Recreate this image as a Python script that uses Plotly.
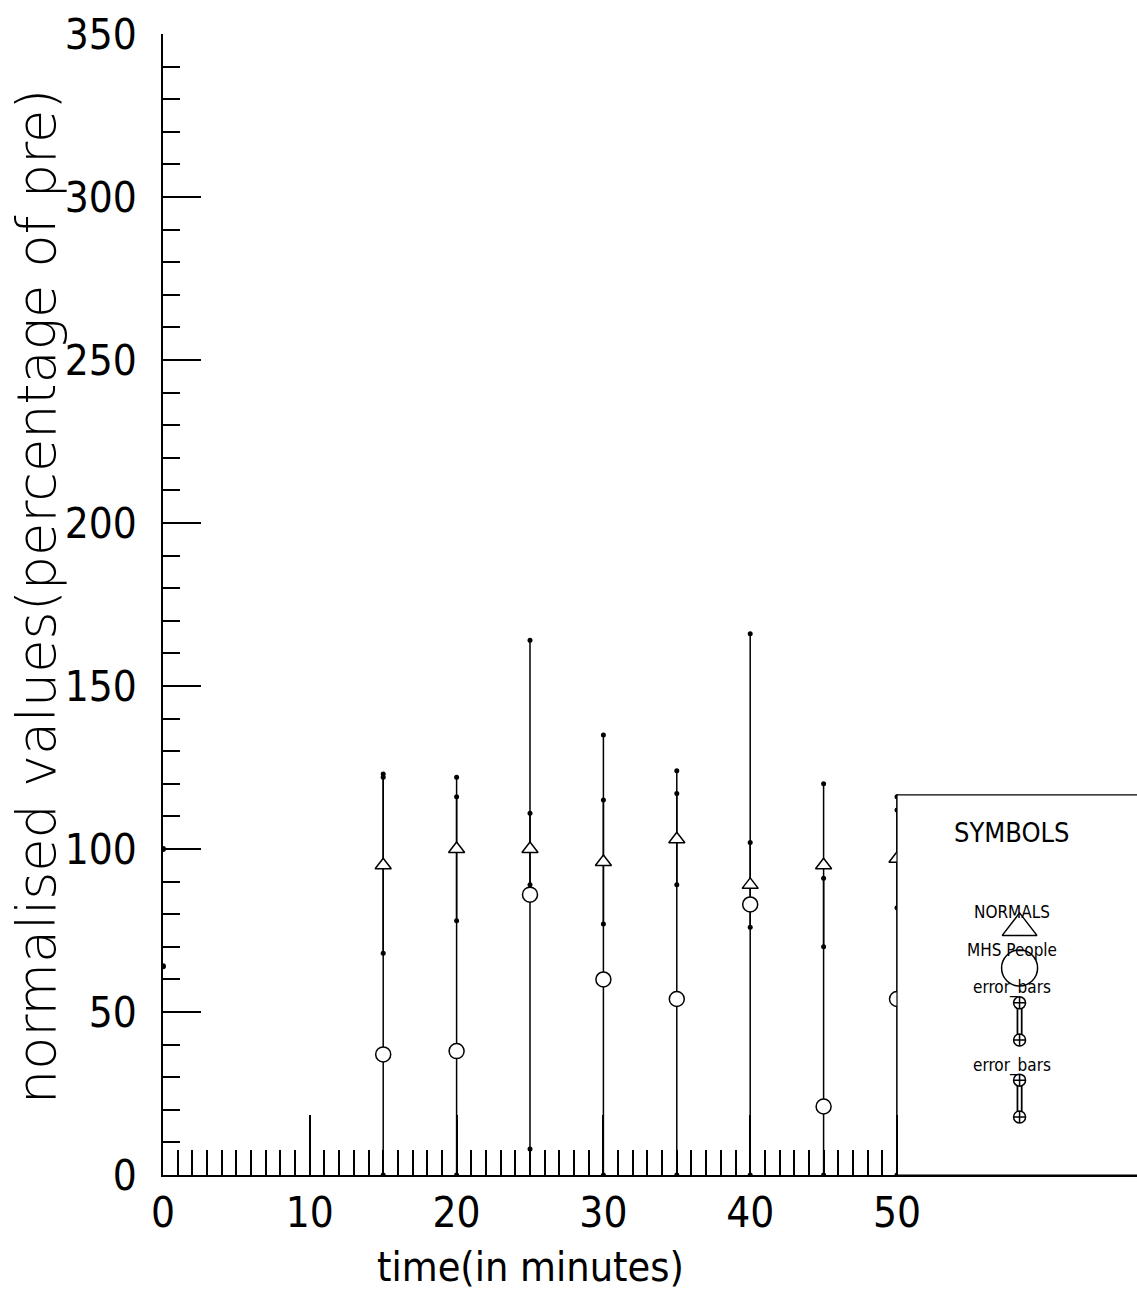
import plotly.graph_objects as go

# ---------------- data ----------------
times = [15, 20, 25, 30, 35, 40, 45, 50]
normals_mean = [95, 100, 100, 96, 103, 89, 95, 97]
normals_sd = [27, 22, 11, 19, 14, 13, 25, 15]
mhs_mean = [37, 38, 86, 60, 54, 83, 21, 54]
mhs_sd = [86, 78, 78, 75, 70, 83, 70, 62]
pre_time = [0, 0]
pre_marks = [100, 64]

x_tick_vals = [0, 10, 20, 30, 40, 50]
x_tick_labels = ["0", "10", "20", "30", "40", "50"]
y_tick_vals = [0, 50, 100, 150, 200, 250, 300, 350]
y_tick_labels = ["0", "50", "100", "150", "200", "250", "300", "350"]

legend_labels = ["NORMALS", "MHS People", "error_bars", "error_bars"]

# ---------------- layout constants ----------------
XMAX = 974 / 14.68
NARROW = "Liberation Sans Narrow, DejaVu Sans Condensed, sans-serif"
BOX_X0, BOX_TOP = 50, 116.6
LEG_X, LEG_TX = 58.35, 57.8


def bar_segments(means, sds):
    xs, ys, ex, ey = [], [], [], []
    for t, m, s in zip(times, means, sds):
        lo, hi = max(0, m - s), m + s
        xs += [t, t, None]
        ys += [lo, hi, None]
        ex += [t, t]
        ey += [lo, hi]
    return xs, ys, ex, ey


fig = go.Figure()

for means, sds in [(mhs_mean, mhs_sd), (normals_mean, normals_sd)]:
    xs, ys, ex, ey = bar_segments(means, sds)
    fig.add_trace(go.Scatter(x=xs, y=ys, mode="lines",
                             line=dict(color="black", width=1.5),
                             hoverinfo="skip", showlegend=False))
    fig.add_trace(go.Scatter(x=ex, y=ey, mode="markers",
                             marker=dict(color="black", size=5),
                             hoverinfo="skip", showlegend=False))

fig.add_trace(go.Scatter(x=times, y=normals_mean, mode="markers", name="NORMALS",
                         marker=dict(symbol="triangle-up", size=14, color="white",
                                     line=dict(color="black", width=1.5)),
                         showlegend=False))
fig.add_trace(go.Scatter(x=times, y=mhs_mean, mode="markers", name="MHS People",
                         marker=dict(symbol="circle", size=15, color="white",
                                     line=dict(color="black", width=1.5)),
                         showlegend=False))
fig.add_trace(go.Scatter(x=pre_time, y=pre_marks, mode="markers",
                         marker=dict(color="black", size=6),
                         hoverinfo="skip", showlegend=False))

# symbols box (white, covers the right half)
fig.add_trace(go.Scatter(x=[BOX_X0, BOX_X0, XMAX + 2, XMAX + 2, BOX_X0],
                         y=[0, BOX_TOP, BOX_TOP, 0, 0], mode="lines",
                         fill="toself", fillcolor="white",
                         line=dict(color="black", width=1.2),
                         hoverinfo="skip", showlegend=False))

# legend symbols
fig.add_trace(go.Scatter(x=[LEG_X], y=[75.8], mode="markers",
                         marker=dict(symbol="triangle-up", size=30, color="white",
                                     line=dict(color="black", width=1.5)),
                         hoverinfo="skip", showlegend=False))
fig.add_trace(go.Scatter(x=[LEG_X], y=[63.5], mode="markers",
                         marker=dict(symbol="circle", size=36, color="white",
                                     line=dict(color="black", width=1.5)),
                         hoverinfo="skip", showlegend=False))
for top, bot in [(52.8, 41.4), (29.1, 17.8)]:
    fig.add_trace(go.Scatter(x=[LEG_X, LEG_X], y=[top, bot], mode="lines",
                             line=dict(color="black", width=6),
                             hoverinfo="skip", showlegend=False))
    fig.add_trace(go.Scatter(x=[LEG_X, LEG_X], y=[top, bot], mode="lines",
                             line=dict(color="white", width=2.5),
                             hoverinfo="skip", showlegend=False))
    fig.add_trace(go.Scatter(x=[LEG_X, LEG_X], y=[top, bot], mode="markers",
                             marker=dict(symbol="circle-cross", size=12, color="white",
                                         line=dict(color="black", width=1.5)),
                             hoverinfo="skip", showlegend=False))

annotations = [
    dict(x=57.77, y=105.2, text="SYMBOLS", font=dict(family=NARROW, size=27, color="black")),
]
for lab, yy in zip(legend_labels, [80.7, 69.0, 57.4, 33.7]):
    annotations.append(dict(x=LEG_TX, y=yy, text=lab,
                            font=dict(family=NARROW, size=17, color="black")))
for a in annotations:
    a.update(xref="x", yref="y", showarrow=False, xanchor="center", yanchor="middle")

annotations.append(dict(x=25, xref="x", y=(1175 - 1267) / 1141, yref="paper",
                        text="time(in minutes)", showarrow=False,
                        xanchor="center", yanchor="middle",
                        font=dict(family=NARROW, size=41, color="black")))
annotations.append(dict(x=(36 - 163) / 974, xref="paper", y=(1175 - 597) / 1141, yref="paper",
                        text="normalised values(percentage of pre)", showarrow=False,
                        textangle=-90, xanchor="center", yanchor="middle",
                        font=dict(family="DejaVu Sans", size=54, color="black", weight=200)))

tickfont = dict(family=NARROW, size=42, color="black")

fig.update_layout(
    width=1137, height=1309,
    margin=dict(l=163, r=0, t=34, b=134),
    paper_bgcolor="white", plot_bgcolor="white",
    showlegend=False,
    annotations=annotations,
    xaxis=dict(range=[0, XMAX], showline=True, linecolor="black", linewidth=1.5,
               showgrid=False, zeroline=False, ticks="inside",
               tickmode="array", tickvals=x_tick_vals, ticktext=x_tick_labels,
               ticklen=60, tickwidth=1.5, tickcolor="black",
               minor=dict(tickmode="array", tickvals=list(range(0, 51)),
                          ticks="inside", ticklen=25, tickwidth=1.5, tickcolor="black",
                          showgrid=False),
               tickfont=tickfont, ticklabelstandoff=0),
    yaxis=dict(range=[0, 350], showline=True, linecolor="black", linewidth=1.5,
               showgrid=False, zeroline=False, ticks="inside",
               tickmode="array", tickvals=y_tick_vals, ticktext=y_tick_labels,
               ticklen=38, tickwidth=1.5, tickcolor="black",
               minor=dict(tickmode="array", tickvals=list(range(0, 351, 10)),
                          ticks="inside", ticklen=17, tickwidth=1.5, tickcolor="black",
                          showgrid=False),
               tickfont=tickfont, ticklabelstandoff=16),
)

fig.write_html("out.html")
